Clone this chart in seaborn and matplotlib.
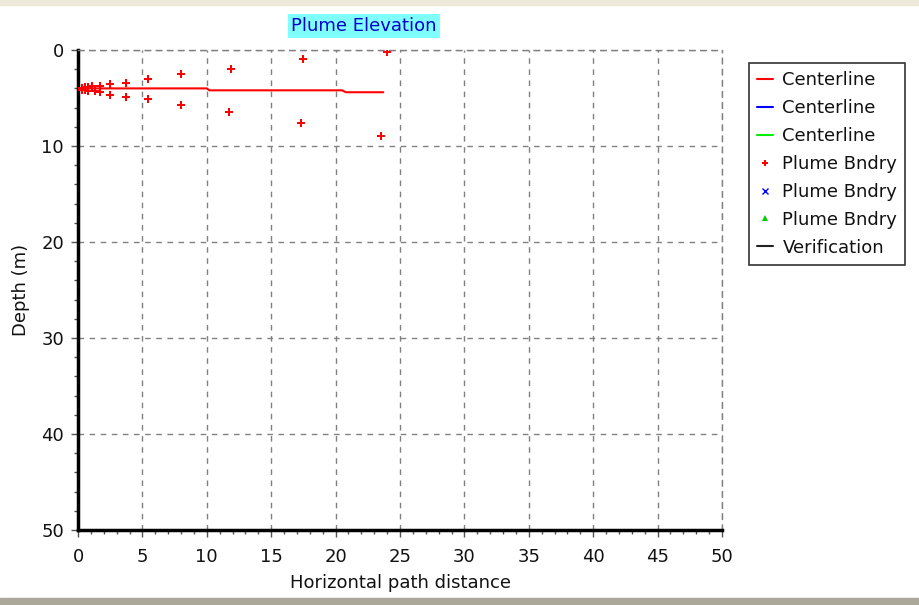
import matplotlib
matplotlib.use('Agg')
import numpy as np
import pandas as pd
import seaborn as sns
import matplotlib.pyplot as plt
from matplotlib.lines import Line2D
from matplotlib.ticker import MultipleLocator

# Centerline (horizontal distance, depth)
center_x = [0.0, 10.0, 10.2, 20.5, 20.8, 23.7]
center_y = [4.0, 4.0, 4.2, 4.2, 4.4, 4.4]

# Plume boundary points, upper and lower edges
upper_x = [0.29, 0.55, 0.8, 1.1, 1.7, 2.5, 3.7, 5.4, 8.0, 11.9, 17.5, 24.0]
upper_y = [3.95, 3.9, 3.85, 3.8, 3.7, 3.55, 3.4, 3.0, 2.55, 1.95, 0.9, 0.2]
lower_x = [0.29, 0.55, 0.8, 1.3, 1.7, 2.5, 3.7, 5.4, 8.0, 11.75, 17.3, 23.5]
lower_y = [4.15, 4.2, 4.25, 4.25, 4.4, 4.7, 4.9, 5.1, 5.7, 6.5, 7.6, 9.0]

legend_labels = ['Centerline', 'Centerline', 'Centerline', 'Plume Bndry',
                 'Plume Bndry', 'Plume Bndry', 'Verification']

sns.set_style('white')
plt.rcParams['font.family'] = ['DejaVu Sans']

fig = plt.figure(figsize=(9.19, 6.05), dpi=100)
# window edges
fig.patches.append(plt.Rectangle((0, 1 - 5 / 605), 1, 5 / 605, transform=fig.transFigure,
                                 color='#ece9d8', zorder=0))
fig.patches.append(plt.Rectangle((0, 0), 1, 7 / 605, transform=fig.transFigure,
                                 color='#aca899', zorder=0))

ax = fig.add_axes([78 / 919, 1 - 530 / 605, 644 / 919, 480 / 605])

cl = pd.DataFrame({'x': center_x, 'y': center_y})
sns.lineplot(data=cl, x='x', y='y', ax=ax, color='red', lw=1.5, sort=False, estimator=None)

bnd = pd.DataFrame({'x': upper_x + lower_x, 'y': upper_y + lower_y})
sns.scatterplot(data=bnd, x='x', y='y', ax=ax, color='red', marker='P', s=30,
                linewidth=0, zorder=3)

ax.set_xlim(0, 50)
ax.set_ylim(50, 0)
ax.xaxis.set_major_locator(MultipleLocator(5))
ax.xaxis.set_minor_locator(MultipleLocator(1))
ax.yaxis.set_major_locator(MultipleLocator(10))
ax.yaxis.set_minor_locator(MultipleLocator(2))
ax.tick_params(which='major', direction='out', length=5, width=1, color='#555555',
               labelsize=13, left=True, bottom=True, labelcolor='#111111')
ax.tick_params(axis='x', which='major', pad=8)
ax.tick_params(axis='y', which='major', pad=5)
ax.tick_params(which='minor', direction='out', length=3, width=1, color='#555555',
               left=True, bottom=True)
ax.grid(True, which='major', color='#808080', linestyle=(0, (4, 4)), lw=1)

for side in ['left', 'bottom']:
    ax.spines[side].set_color('black')
    ax.spines[side].set_linewidth(2.5)
for side in ['top', 'right']:
    ax.spines[side].set_color('#808080')
    ax.spines[side].set_linestyle((0, (4, 4)))
    ax.spines[side].set_linewidth(1)

ax.set_xlabel('Horizontal path distance', fontsize=13, labelpad=6, color='#111111')
ax.set_ylabel('Depth (m)', fontsize=13, labelpad=8, color='#111111')

fig.text(364 / 919, 1 - 26 / 605, 'Plume Elevation', ha='center', va='center',
         fontsize=13, color='#0000cc',
         bbox=dict(facecolor='#80ffff', edgecolor='none', pad=2.5))

handles = [
    Line2D([], [], color='red', lw=1.5),
    Line2D([], [], color='blue', lw=1.5),
    Line2D([], [], color='#00ee00', lw=1.5),
    Line2D([], [], color='red', marker='P', ms=4, ls='none', mew=0),
    Line2D([], [], color='blue', marker='x', ms=4, ls='none'),
    Line2D([], [], color='#00cc00', marker='^', ms=4, ls='none', mew=0),
    Line2D([], [], color='#222222', lw=1.5),
]
leg = fig.legend(handles, legend_labels, loc='upper left',
                 bbox_to_anchor=(749 / 919, 1 - 63 / 605), fontsize=13,
                 frameon=True, fancybox=False, edgecolor='black',
                 handlelength=0.9, handletextpad=0.5, labelspacing=0.55,
                 borderpad=0.45, borderaxespad=0)
leg.get_frame().set_linewidth(1.2)
for t in leg.get_texts():
    t.set_color('#111111')

fig.savefig('out.png', dpi=100)
